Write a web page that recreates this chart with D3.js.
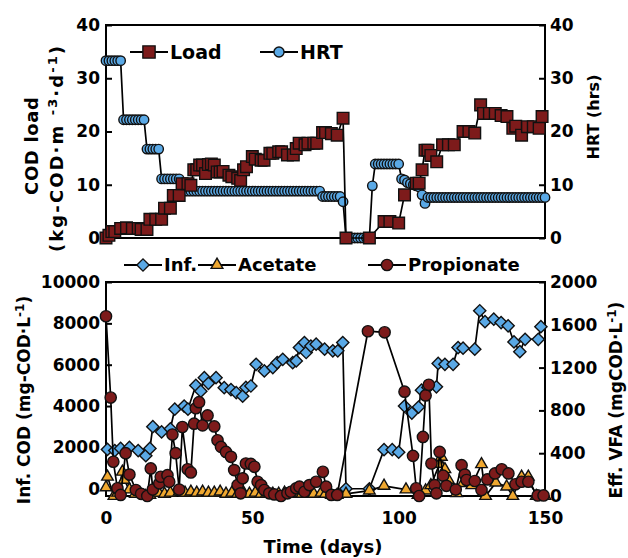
<!DOCTYPE html>
<html>
<head>
<meta charset="utf-8">
<script src="https://cdn.jsdelivr.net/npm/d3@7"></script>
<style>
  body { margin: 0; background: #fff; }
  text { font-family: "DejaVu Sans", sans-serif; font-weight: bold; fill: #000; }
</style>
</head>
<body>
<div id="chart"></div>
<script>
// top panel: COD load (squares) and HRT (circles, one per day)
var loadDays = [0, 1, 2, 3, 5, 7, 9, 11, 12, 14, 15, 17, 19, 20, 22, 23, 25, 26, 28, 29, 30, 31, 32, 33, 34, 35, 36, 37, 38, 39, 40, 42, 43, 45, 46, 47, 48, 50, 51, 53, 54, 56, 57, 59, 60, 62, 64, 65, 66, 68, 69, 71, 72, 74, 75, 77, 79, 81, 82, 90, 95, 97, 100, 102, 106, 107, 108, 109, 110, 111, 113, 115, 117, 119, 122, 124, 126, 128, 129, 131, 133, 135, 137, 139, 140, 142, 144, 146, 148, 149];
var loadVals = [0, 0.5, 1.2, 1.2, 1.8, 1.9, 1.8, 1.8, 1.6, 1.6, 3.5, 3.5, 3.5, 5.6, 5.6, 8.0, 8.0, 10.2, 10.2, 9.9, 12.8, 12.8, 13.7, 13.7, 12.1, 13.8, 13.9, 13.7, 12.4, 12.4, 12.5, 11.8, 11.5, 11.2, 10.8, 12.8, 13.4, 15.3, 14.8, 14.6, 14.6, 15.9, 15.9, 16.2, 16.2, 15.6, 15.6, 16.8, 17.8, 17.5, 17.8, 17.8, 17.8, 19.8, 19.8, 19.6, 19.3, 22.5, 0, 0, 3.1, 3.1, 2.8, 8.1, 10.3, 10.3, 12.8, 16.5, 16.5, 15.5, 14.3, 17.5, 17.5, 17.5, 20, 20, 19.7, 25, 23.4, 23.4, 23.4, 23, 22.8, 20.6, 21, 19.3, 20.9, 20.9, 20.6, 22.8];

var hrtVals = [
  33.3, 33.3, 33.3, 33.3, 33.3, 33.3, 22.2, 22.2, 22.2, 22.2,
  22.2, 22.2, 22.2, 22.2, 16.7, 16.7, 16.7, 16.7, 16.7, 11.1,
  11.1, 11.1, 11.1, 11.1, 11.1, 11.1, 8.8, 8.8, 8.8, 8.8,
  8.8, 8.8, 8.8, 8.8, 8.8, 8.8, 8.8, 8.8, 8.8, 8.8,
  8.8, 8.8, 8.8, 8.8, 8.8, 8.8, 8.8, 8.8, 8.8, 8.8,
  8.8, 8.8, 8.8, 8.8, 8.8, 8.8, 8.8, 8.8, 8.8, 8.8,
  8.8, 8.8, 8.8, 8.8, 8.8, 8.8, 8.8, 8.8, 8.8, 8.8,
  8.8, 8.8, 8.8, 8.8, 7.8, 7.8, 7.8, 7.8, 7.8, 7.8,
  7.8, 6.8, 0, 0, 0, 0, 0, 0, 0, 0,
  0, 9.8, 13.9, 13.9, 13.9, 13.9, 13.9, 13.9, 13.9, 13.9,
  13.9, 11.1, 10.9, 10.4, 10.2, 10.0, 9.8, 9.6, 8.1, 6.5,
  7.6, 7.6, 7.6, 7.6, 7.6, 7.6, 7.6, 7.6, 7.6, 7.6,
  7.6, 7.6, 7.6, 7.6, 7.6, 7.6, 7.6, 7.6, 7.6, 7.6,
  7.6, 7.6, 7.6, 7.6, 7.6, 7.6, 7.6, 7.6, 7.6, 7.6,
  7.6, 7.6, 7.6, 7.6, 7.6, 7.6, 7.6, 7.6, 7.6, 7.6,
  7.6
];

// bottom panel: influent COD (left axis), acetate and propionate (right axis)
var infDays = [0.5, 3, 5, 8, 11, 13.6, 15, 16, 19, 22, 23.5, 26.7, 28, 30.7, 32.4, 33.6, 35, 37.6, 40.4, 42.7, 44.5, 46.7, 47.8, 49.5, 51.3, 54.1, 57, 58.5, 60.4, 63.8, 65, 66.1, 67.8, 68.4, 70, 71.8, 74.7, 77.5, 79.2, 80.9, 82, 90, 95, 97.8, 100, 102, 104.5, 106.8, 107.8, 110, 112.9, 113.5, 115.8, 118.6, 120.3, 122, 126, 127.7, 129.5, 132.5, 135, 137.4, 139.4, 141.4, 143.2, 147.7, 148.6];
var infVals = [1900, 1850, 1950, 2000, 1850, 1600, 1950, 3000, 2750, 2900, 3850, 4000, 3850, 5000, 4720, 5370, 5100, 5370, 4890, 4800, 4650, 4480, 4900, 4970, 6020, 5700, 5860, 6100, 6260, 6100, 6180, 6830, 7070, 6590, 6900, 6990, 6750, 6670, 6670, 7070, 0, 0, 1890, 1890, 1770, 4000, 3660, 3950, 4770, 4900, 4930, 6060, 6020, 6020, 6830, 6800, 6750, 8610, 8080, 8200, 8040, 7880, 7100, 6630, 7230, 7230, 7840];

var aceDays = [0, 0.5, 2.7, 4, 5.6, 6.2, 8, 10, 13.6, 15, 18, 20, 22, 25, 27, 29, 31, 33, 35, 37, 39, 41, 43, 45, 47, 49, 51, 53, 55, 57, 59, 61, 63, 65, 67, 69, 71, 73.5, 75, 77, 79, 82, 90, 95, 102.5, 106.6, 109.2, 111, 114, 114.6, 115.8, 117, 119.8, 122, 125, 128.3, 129.7, 133.2, 136.9, 139, 142, 144.3, 147, 150];
var aceVals = [80, 180, 0, 30, 226, 150, 60, 20, 0, 10, 30, 20, 30, 40, 30, 40, 30, 40, 30, 30, 40, 20, 30, 20, 30, 20, 30, 20, 30, 20, 20, 30, 20, 30, 20, 30, 20, 30, 20, 10, 10, 20, 50, 95, 60, 10, 50, 100, 300, 366, 250, 150, 25, 120, 100, 296, 0, 125, 87, 0, 180, 180, 0, 0];

var proDays = [0, 1.6, 2.5, 3.9, 5, 6.7, 8, 10.2, 12, 14.1, 15.3, 16, 18.2, 18.7, 21, 21.6, 22.7, 23.8, 25, 26.1, 27.9, 29, 30.1, 30.7, 31.8, 33, 34.7, 37, 38.1, 39.3, 41, 42.7, 43.8, 45, 46, 46.7, 47.8, 49.5, 50.7, 51.8, 53, 54.1, 55.8, 57.5, 59.8, 62, 63.2, 65, 66.1, 67.8, 69.5, 71.8, 74.1, 75.2, 77, 79, 89.5, 95.2, 102, 104.9, 106, 107, 108.3, 109.2, 110.3, 111.2, 112.3, 112.9, 114, 115.2, 116.3, 119.5, 121.5, 122.6, 123.2, 126, 128.3, 130.3, 132.9, 135.2, 137.5, 139.9, 142, 144.3, 147.5, 149.5];
var proVals = [1680, 920, 320, 72, 10, 400, 200, 56, 20, 0, 258, 60, 118, 180, 195, 133, 575, 400, 60, 645, 250, 220, 676, 820, 877, 660, 753, 650, 521, 459, 412, 366, 242, 102, 25, 165, 304, 300, 273, 133, 102, 56, 25, 15, 0, 25, 40, 72, 87, 40, 102, 133, 226, 87, 10, 10, 1540, 1530, 975, 375, 72, 0, 552, 940, 1040, 304, 102, 25, 412, 190, 95, 60, 288, 200, 149, 140, 56, 155, 211, 250, 211, 110, 133, 133, 5, 5];

var topTicks = [0, 10, 20, 30, 40];
var codTicks = [0, 2000, 4000, 6000, 8000, 10000];
var vfaTicks = [0, 400, 800, 1200, 1600, 2000];
var dayTicks = [0, 50, 100, 150];

var svgWidth = 628;
var svgHeight = 558;

var svg = d3.select("#chart")
  .append("svg")
  .attr("width", svgWidth)
  .attr("height", svgHeight);

var darkRed = "#7d1b1b";
var blue = "#5aa9e6";
var orange = "#f0a830";

var x = d3.scaleLinear().domain([0, 150]).range([106, 545]);

// top panel scales
var yLoad = d3.scaleLinear().domain([0, 40]).range([238, 25]);
var yHrt = d3.scaleLinear().domain([0, 40]).range([238, 25]);

// bottom panel scales
var yCod = d3.scaleLinear().domain([-350, 10000]).range([496, 282]);
var yVfa = d3.scaleLinear().domain([0, 2000]).range([496, 282]);

function frame(y0, y1) {
  svg.append("rect")
    .attr("x", x(0))
    .attr("y", y1)
    .attr("width", x(150) - x(0))
    .attr("height", y0 - y1)
    .attr("fill", "none")
    .attr("stroke", "#000")
    .attr("stroke-width", 2);
}

function styleAxis(g) {
  g.select(".domain").remove();
  g.selectAll(".tick line").attr("stroke", "#000").attr("stroke-width", 2);
  g.selectAll(".tick text")
    .attr("fill", "#000")
    .style("font-family", "'DejaVu Sans', sans-serif")
    .style("font-weight", "bold")
    .style("font-size", "17px");
}

frame(238, 25);
frame(496, 282);

var fmt = d3.format("d");

svg.append("g")
  .attr("transform", `translate(${x(0)},0)`)
  .call(d3.axisLeft(yLoad).tickValues(topTicks).tickFormat(fmt).tickSizeInner(-6).tickSizeOuter(0).tickPadding(6))
  .call(styleAxis);
svg.append("g")
  .attr("transform", `translate(${x(150)},0)`)
  .call(d3.axisRight(yHrt).tickValues(topTicks).tickFormat(fmt).tickSizeInner(-6).tickSizeOuter(0).tickPadding(5))
  .call(styleAxis);

svg.append("g")
  .attr("transform", `translate(${x(0)},0)`)
  .call(d3.axisLeft(yCod).tickValues(codTicks).tickFormat(fmt).tickSizeInner(-6).tickSizeOuter(0).tickPadding(6))
  .call(styleAxis);
svg.append("g")
  .attr("transform", `translate(${x(150)},0)`)
  .call(d3.axisRight(yVfa).tickValues(vfaTicks).tickFormat(fmt).tickSizeInner(-6).tickSizeOuter(0).tickPadding(5))
  .call(styleAxis);
svg.append("g")
  .attr("transform", "translate(0,496)")
  .call(d3.axisBottom(x).tickValues(dayTicks).tickFormat(fmt).tickSizeInner(0).tickSizeOuter(0).tickPadding(16))
  .call(styleAxis);

//series drawing helper
function series(days, vals, yScale, sym, size, fill, rot) {
  var pts = days.map((d, i) => [x(d), yScale(vals[i])]);
  svg.append("path")
    .attr("d", d3.line()(pts))
    .attr("fill", "none")
    .attr("stroke", "#000")
    .attr("stroke-width", 1.7);
  svg.append("g").selectAll("path")
    .data(pts)
    .enter()
    .append("path")
    .attr("d", d3.symbol().type(sym).size(size))
    .attr("transform", p => `translate(${p[0]},${p[1]}) rotate(${rot || 0})`)
    .attr("fill", fill)
    .attr("stroke", "#111")
    .attr("stroke-width", 1.4);
}

var hrtDays = hrtVals.map((v, i) => i);
series(hrtDays, hrtVals, yHrt, d3.symbolCircle, 70, blue);
series(loadDays, loadVals, yLoad, d3.symbolSquare, 135, darkRed);

series(infDays, infVals, yCod, d3.symbolSquare, 75, blue, 45);
series(aceDays, aceVals, yVfa, d3.symbolTriangle, 58, orange);
series(proDays, proVals, yVfa, d3.symbolCircle, 100, darkRed);

// legends
function legendItem(x0, y0, sym, size, fill, rot, label, fs) {
  svg.append("line")
    .attr("x1", x0).attr("x2", x0 + 38)
    .attr("y1", y0).attr("y2", y0)
    .attr("stroke", "#000").attr("stroke-width", 2);
  svg.append("path")
    .attr("d", d3.symbol().type(sym).size(size))
    .attr("transform", `translate(${x0 + 19},${y0}) rotate(${rot || 0})`)
    .attr("fill", fill)
    .attr("stroke", "#111")
    .attr("stroke-width", 1.4);
  svg.append("text")
    .attr("x", x0 + 40)
    .attr("y", y0)
    .attr("dy", "0.36em")
    .style("font-size", fs + "px")
    .text(label);
}

legendItem(130, 52, d3.symbolSquare, 150, darkRed, 0, "Load", 19);
legendItem(260, 52, d3.symbolCircle, 80, blue, 0, "HRT", 19);
legendItem(124, 265, d3.symbolSquare, 75, blue, 45, "Inf.", 18);
legendItem(198, 265, d3.symbolTriangle, 60, orange, 0, "Acetate", 18);
legendItem(368, 265, d3.symbolCircle, 100, darkRed, 0, "Propionate", 18);

// axis titles
svg.append("text")
  .attr("transform", "translate(38,146) rotate(-90)")
  .attr("text-anchor", "middle")
  .attr("textLength", 98)
  .style("font-size", "18px")
  .text("COD load");

var t0 = svg.append("text")
  .attr("transform", "translate(63,149) rotate(-90)")
  .attr("text-anchor", "middle")
  .attr("textLength", 206)
  .style("font-size", "18px");
t0.append("tspan").text("(kg-COD·m ");
t0.append("tspan").attr("dy", -6).style("font-size", "13px").text("-3");
t0.append("tspan").attr("dy", 6).text("·d");
t0.append("tspan").attr("dy", -6).style("font-size", "13px").text("-1");
t0.append("tspan").attr("dy", 6).text(")");

svg.append("text")
  .attr("transform", "translate(599,117) rotate(-90)")
  .attr("text-anchor", "middle")
  .style("font-size", "16px")
  .text("HRT (hrs)");

var t1 = svg.append("text")
  .attr("transform", "translate(30,400) rotate(-90)")
  .attr("text-anchor", "middle")
  .style("font-size", "17px");
t1.append("tspan").text("Inf. COD (mg-COD·L");
t1.append("tspan").attr("dy", -6).style("font-size", "12px").text("-1");
t1.append("tspan").attr("dy", 6).text(")");

var t2 = svg.append("text")
  .attr("transform", "translate(622,400) rotate(-90)")
  .attr("text-anchor", "middle")
  .style("font-size", "17px");
t2.append("tspan").text("Eff. VFA (mgCOD·L");
t2.append("tspan").attr("dy", -6).style("font-size", "12px").text("-1");
t2.append("tspan").attr("dy", 6).text(")");

svg.append("text")
  .attr("x", 323)
  .attr("y", 553)
  .attr("text-anchor", "middle")
  .style("font-size", "18px")
  .text("Time (days)");
</script>
</body>
</html>
